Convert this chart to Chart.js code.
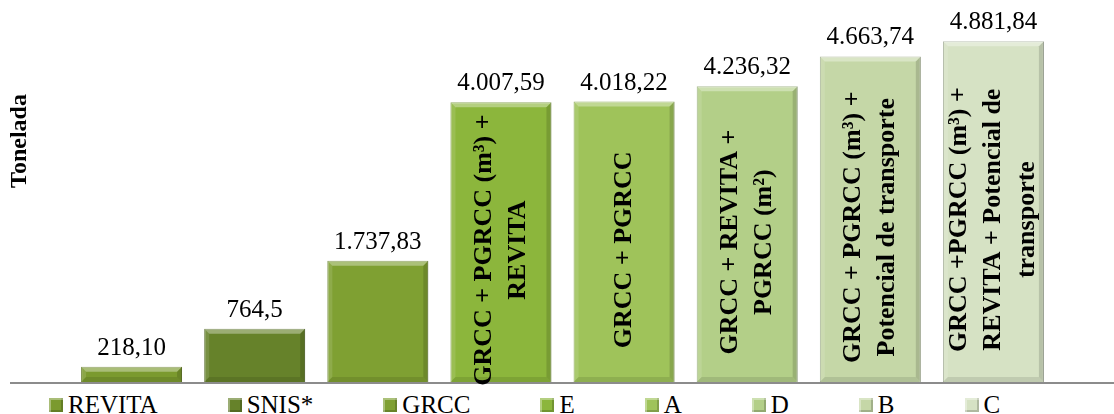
<!DOCTYPE html>
<html>
<head>
<meta charset="utf-8">
<script src="https://cdn.jsdelivr.net/npm/chart.js@4.4.0/dist/chart.umd.min.js"></script>
<style>
  body { margin: 0; background: #fff; }
  #wrap { position: relative; width: 1114px; height: 390px; }
  #legend {
    display: flex; gap: 70px; padding-left: 49px; height: 30px; align-items: center;
    font-family: "Liberation Serif", "Times New Roman", serif; font-size: 25px; color: #000;
  }
  .item { display: flex; align-items: center; }
  .box { width: 14px; height: 14px; margin-right: 5px; box-sizing: border-box;
         box-shadow: inset 2px 2px 0 rgba(255,255,255,0.35), inset -2px -2px 0 rgba(0,0,0,0.18); }
</style>
</head>
<body>
<div id="wrap"><canvas id="myChart"></canvas></div>
<div id="legend"></div>
<script>
// Datos
const categories = ['REVITA', 'SNIS*', 'GRCC', 'E', 'A', 'D', 'B', 'C'];
const values = [218.10, 764.5, 1737.83, 4007.59, 4018.22, 4236.32, 4663.74, 4881.84];
const valueLabels = ['218,10', '764,5', '1.737,83', '4.007,59', '4.018,22', '4.236,32', '4.663,74', '4.881,84'];
const barTexts = [
  [], [], [],
  ['GRCC + PGRCC (m³) +', 'REVITA'],
  ['GRCC + PGRCC'],
  ['GRCC + REVITA +', 'PGRCC (m²)'],
  ['GRCC + PGRCC (m³) +', 'Potencial de transporte'],
  ['GRCC +PGRCC (m³) +', 'REVITA + Potencial de', 'transporte']
];
const colors = ['#7b9a2e', '#66822a', '#7fa032', '#8cb63c', '#9fc35a', '#b3cf88', '#c5d7a7', '#d6e2c4'];
const borders = ['#5f7722', '#4f6720', '#627d26', '#6f9130', '#809f48', '#93a977', '#9eab8a', '#a7b09c'];

const serif = '"Liberation Serif", "Times New Roman", serif';

// Plugin para bisel, eje, etiquetas y textos
const extras = {
  id: 'extras',
  afterDatasetsDraw(chart) {
    const ctx = chart.ctx;
    const area = chart.chartArea;
    const meta = chart.getDatasetMeta(0);
    ctx.save();
    meta.data.forEach((bar) => {
      const l = bar.x - bar.width / 2, r = bar.x + bar.width / 2;
      const t = bar.y, b = bar.base, e = 5;
      ctx.fillStyle = 'rgba(255,255,255,0.35)';
      ctx.beginPath(); ctx.moveTo(l, t); ctx.lineTo(r, t); ctx.lineTo(r - e, t + e); ctx.lineTo(l + e, t + e); ctx.closePath(); ctx.fill();
      ctx.fillStyle = 'rgba(255,255,255,0.12)';
      ctx.beginPath(); ctx.moveTo(l, t); ctx.lineTo(l + e, t + e); ctx.lineTo(l + e, b - e); ctx.lineTo(l, b); ctx.closePath(); ctx.fill();
      ctx.fillStyle = 'rgba(0,0,0,0.14)';
      ctx.beginPath(); ctx.moveTo(r, t); ctx.lineTo(r - e, t + e); ctx.lineTo(r - e, b - e); ctx.lineTo(r, b); ctx.closePath(); ctx.fill();
      ctx.fillStyle = 'rgba(0,0,0,0.10)';
      ctx.beginPath(); ctx.moveTo(l, b); ctx.lineTo(l + e, b - e); ctx.lineTo(r - e, b - e); ctx.lineTo(r, b); ctx.closePath(); ctx.fill();
    });

    // línea del eje
    ctx.strokeStyle = '#8c8c8c';
    ctx.lineWidth = 2;
    ctx.beginPath();
    ctx.moveTo(10, area.bottom + 1);
    ctx.lineTo(chart.width, area.bottom + 1);
    ctx.stroke();

    // valores encima de las barras
    ctx.fillStyle = '#000';
    ctx.font = '25px ' + serif;
    ctx.textAlign = 'center';
    ctx.textBaseline = 'alphabetic';
    meta.data.forEach((bar, i) => {
      ctx.fillText(valueLabels[i], bar.x, bar.y - 12);
    });

    // textos verticales dentro de las barras
    ctx.font = 'bold 26px ' + serif;
    ctx.textBaseline = 'middle';
    meta.data.forEach((bar, i) => {
      const lines = barTexts[i];
      if (!lines.length) return;
      ctx.save();
      ctx.translate(bar.x, (bar.y + bar.base) / 2 + 8);
      ctx.rotate(-Math.PI / 2);
      lines.forEach((line, j) => {
        ctx.fillText(line, 0, (j - (lines.length - 1) / 2) * 34);
      });
      ctx.restore();
    });

    // título del eje Y
    ctx.save();
    ctx.font = 'bold 24px ' + serif;
    ctx.translate(20, 141);
    ctx.rotate(-Math.PI / 2);
    ctx.fillText('Tonelada', 0, 0);
    ctx.restore();

    ctx.restore();
  }
};

const ctx = document.getElementById('myChart').getContext('2d');
const myChart = new Chart(ctx, {
  type: 'bar',
  data: {
    labels: categories,
    datasets: [{
      label: 'Tonelada',
      data: values,
      backgroundColor: colors,
      borderColor: borders,
      borderWidth: 1,
      categoryPercentage: 1,
      barPercentage: 0.82
    }]
  },
  options: {
    responsive: true,
    maintainAspectRatio: false,
    animation: false,
    layout: { padding: { left: 70, right: 59, top: 33, bottom: 8 } },
    scales: {
      x: { display: false },
      y: { display: false, min: 0, max: 5000 }
    },
    plugins: {
      legend: { display: false },
      tooltip: { enabled: false }
    }
  },
  plugins: [extras]
});

// Leyenda en HTML
const legend = document.getElementById('legend');
categories.forEach((name, i) => {
  const item = document.createElement('div');
  item.className = 'item';
  const box = document.createElement('span');
  box.className = 'box';
  box.style.background = colors[i];
  item.appendChild(box);
  item.appendChild(document.createTextNode(name));
  legend.appendChild(item);
});
</script>
</body>
</html>
